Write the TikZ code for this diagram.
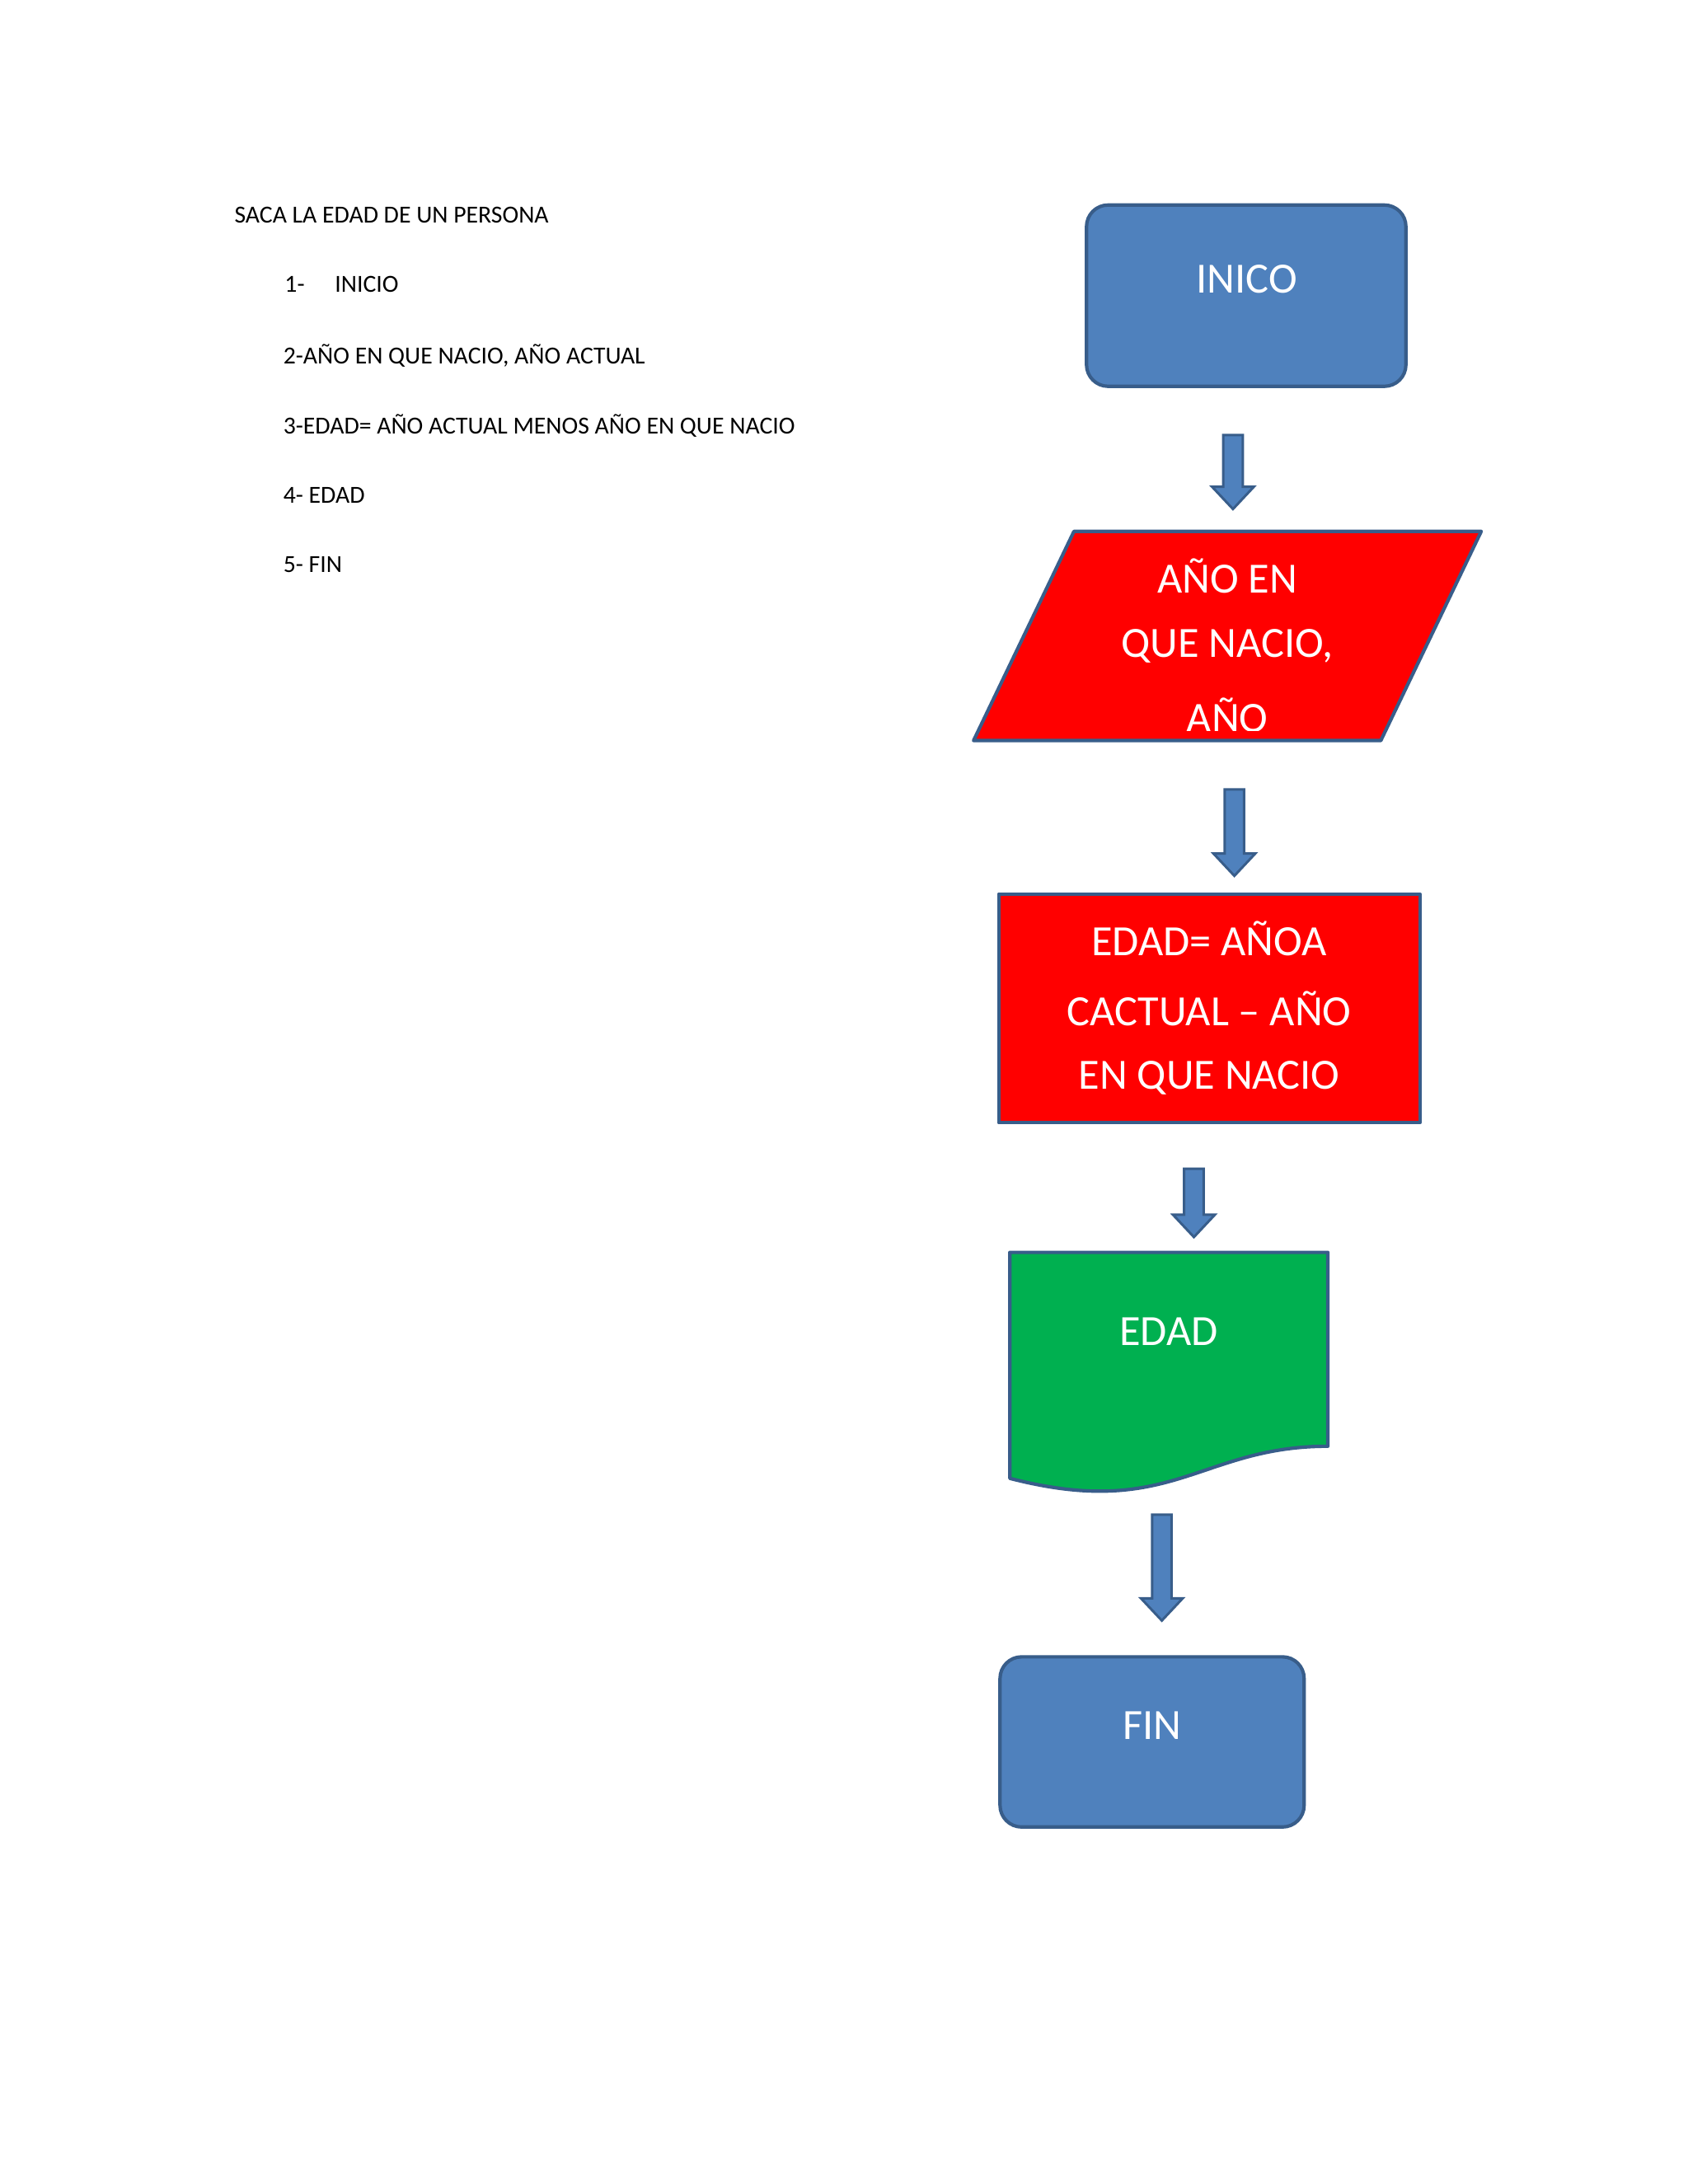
\documentclass[tikz,border=0pt]{standalone}
\usepackage{fontspec}
\setmainfont{Carlito}
\definecolor{bfill}{HTML}{4F81BD}
\definecolor{bline}{HTML}{385D8A}
\definecolor{gfill}{HTML}{00B050}
\begin{document}
\begin{tikzpicture}[x=0.05cm,y=-0.05cm,
  shp/.style={draw=bline,line width=3.5pt,line join=round},
  lst/.style={anchor=west,font=\fontsize{25}{30}\selectfont,inner sep=0},
  big/.style={text=white,font=\fontsize{44}{71}\selectfont,align=center,inner sep=0},
  barrow/.style={fill=bfill,draw=bline,line width=2.5pt,line join=miter}]
\useasboundingbox[fill=white] (0,0) rectangle (1210,1566);
% left list
\node[lst] (t0) at (168,154) {SACA LA EDAD DE UN PERSONA};
\node[lst] (t1a) at (204,204) {1-};
\node[lst] (t1) at (240,204) {INICIO};
\node[lst] (t2) at (203,255) {2-AÑO EN QUE NACIO, AÑO ACTUAL};
\node[lst] (t3) at (203,305) {3-EDAD= AÑO ACTUAL MENOS AÑO EN QUE NACIO};
\node[lst] (t4) at (203,355) {4- EDAD};
\node[lst] (t5) at (203,405) {5- FIN};
% INICO
\draw[shp,fill=bfill,rounded corners=22] (779,147) rectangle (1008,277);
\node[big] (ini) at (894,200) {INICO};
% parallelogram
\draw[shp,fill=red] (770,381) -- (1062,381) -- (990,531) -- (698,531) -- cycle;
\begin{scope}
\clip (698,383) rectangle (1062,524);
\node[big] (p1) at (880,413) {AÑO EN};
\node[big] (p2) at (880,463) {QUE NACIO,};
\node[big] (p3) at (880,513) {AÑO};
\end{scope}
% process
\draw[shp,fill=red] (716,641) rectangle (1018,805);
\node[big] (r1) at (867,673) {EDAD= AÑOA};
\node[big] (r2) at (867,723) {CACTUAL – AÑO};
\node[big] (r3) at (867,773) {EN QUE NACIO};
% document
\draw[shp,fill=gfill] (724,898) -- (952,898) -- (952,1037)
  .. controls (860,1037) and (840,1090) .. (724,1060) -- cycle;
\node[big] (d1) at (838,955) {EDAD};
% FIN
\draw[shp,fill=bfill,rounded corners=22] (717,1188) rectangle (935,1310);
\node[big] (fin) at (826,1237) {FIN};
% block arrows
\foreach \cx/\ya/\yb in {884/312/365, 885/566/628, 856/838/887, 833/1086/1162}{
  \pgfmathsetmacro{\yh}{\yb-16}
  \draw[barrow] (\cx-7,\ya) -- (\cx+7,\ya) -- (\cx+7,\yh) -- (\cx+15,\yh) -- (\cx,\yb)
    -- (\cx-15,\yh) -- (\cx-7,\yh) -- cycle;
}
\end{tikzpicture}
\end{document}
